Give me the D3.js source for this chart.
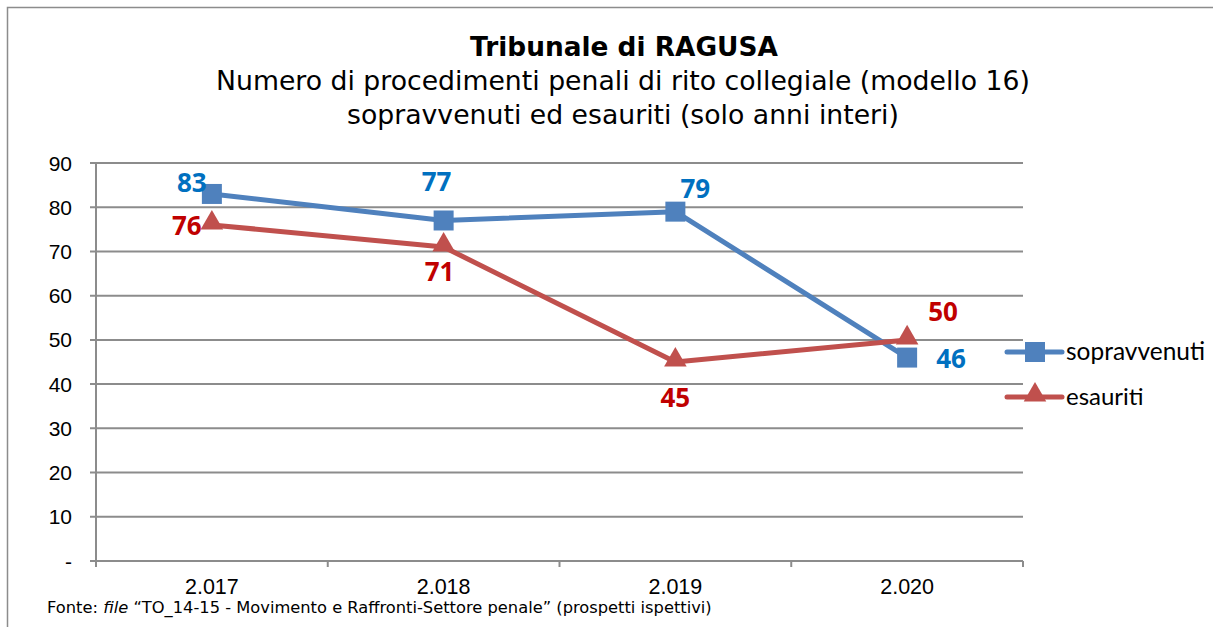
<!DOCTYPE html>
<html><head><meta charset="utf-8">
<script src="https://d3js.org/d3.v7.min.js"></script>
<style>body{margin:0;background:#fff}svg{display:block}</style>
</head><body>
<script>
const categories = ["2.017", "2.018", "2.019", "2.020"];
const sopravvenuti = [83, 77, 79, 46];
const esauriti = [76, 71, 45, 50];
const yTicks = [0, 10, 20, 30, 40, 50, 60, 70, 80, 90];
const titleText = "Tribunale di RAGUSA";
const subtitleLines = ["Numero di procedimenti penali di rito collegiale (modello 16)", "sopravvenuti ed esauriti (solo anni interi)"];
const seriesNames = ["sopravvenuti", "esauriti"];

(function () {
const W = 1213, H = 627;
const svg = d3.select("body").append("svg").attr("width", W).attr("height", H);

function fit(sel, target) {
  const fs = +sel.attr("font-size");
  const w = sel.node().getComputedTextLength();
  if (w > 0) sel.attr("font-size", (fs * target / w).toFixed(2));
  return sel;
}

svg.append("rect").attr("x", 7.5).attr("y", 7.5).attr("width", W + 20).attr("height", H + 20)
  .attr("fill", "none").attr("stroke", "#8c8c8c").attr("stroke-width", 1.5);

const pLeft = 96, pRight = 1023, pTop = 163, pBottom = 561;
const x = d3.scaleBand().domain(categories).range([pLeft, pRight]);
const y = d3.scaleLinear().domain([0, 90]).range([pBottom, pTop]);

svg.append("g").selectAll("line").data(yTicks).join("line")
  .attr("x1", pLeft - 6).attr("x2", pRight)
  .attr("y1", d => y(d)).attr("y2", d => y(d))
  .attr("stroke", "#8c8c8c").attr("stroke-width", 2);
svg.append("line").attr("x1", pLeft).attr("x2", pLeft).attr("y1", pTop).attr("y2", pBottom + 6)
  .attr("stroke", "#8c8c8c").attr("stroke-width", 2);
const bounds = categories.map(c => x(c)).concat([pRight]);
svg.append("g").selectAll("line").data(bounds).join("line")
  .attr("x1", d => d).attr("x2", d => d).attr("y1", pBottom).attr("y2", pBottom + 6)
  .attr("stroke", "#8c8c8c").attr("stroke-width", 2);

svg.append("g").selectAll("text").data(yTicks).join("text")
  .attr("x", 72).attr("y", d => y(d) + 7.5).attr("text-anchor", "end")
  .attr("font-family", "Liberation Sans, Arial, sans-serif").attr("font-size", 21).attr("fill", "#000")
  .text(d => d === 0 ? "-" : d);
svg.append("g").selectAll("text").data(categories).join("text")
  .attr("x", d => x(d) + x.bandwidth() / 2).attr("y", 594).attr("text-anchor", "middle")
  .attr("font-family", "Liberation Sans, Arial, sans-serif").attr("font-size", 21.5).attr("fill", "#000")
  .text(d => d);

fit(svg.append("text").attr("x", 624).attr("y", 56).attr("text-anchor", "middle")
  .attr("font-family", "DejaVu Sans, Verdana, sans-serif").attr("font-weight", "bold").attr("font-size", 22)
  .text(titleText), 308);
const subW = [814, 552];
subtitleLines.forEach((t, i) => {
  fit(svg.append("text").attr("x", 623).attr("y", 90 + i * 34).attr("text-anchor", "middle")
    .attr("font-family", "DejaVu Sans, Verdana, sans-serif").attr("font-size", 22)
    .text(t), subW[i]);
});

const cx = d => x(d) + x.bandwidth() / 2;
const colors = ["#4F81BD", "#C0504D"];
const labelColors = ["#0070C0", "#C00000"];
const line = d3.line().x((d, i) => cx(categories[i])).y(d => y(d));

[sopravvenuti, esauriti].forEach((data, s) => {
  svg.append("path").attr("d", line(data)).attr("fill", "none")
    .attr("stroke", colors[s]).attr("stroke-width", 5).attr("stroke-linejoin", "round");
});

const sq = d3.symbol().type(d3.symbolSquare).size(400);
const tri = d3.symbol().type(d3.symbolTriangle).size(220);
svg.append("g").selectAll("path").data(sopravvenuti).join("path")
  .attr("d", sq).attr("transform", (d, i) => `translate(${cx(categories[i])},${y(d)})`).attr("fill", colors[0]);
svg.append("g").selectAll("path").data(esauriti).join("path")
  .attr("d", tri).attr("transform", (d, i) => `translate(${cx(categories[i])},${y(d) - 2})`).attr("fill", colors[1]);

const offS = [[-20, -2], [-7, -29], [20, -14], [44, 10]];
const offE = [[-25, 10], [-4, 34], [0, 45], [36, -19]];
function labels(data, offs, color) {
  svg.append("g").selectAll("text").data(data).join("text")
    .attr("x", (d, i) => cx(categories[i]) + offs[i][0])
    .attr("y", (d, i) => y(d) + offs[i][1])
    .attr("text-anchor", "middle").attr("font-family", "Open Sans, Lato, sans-serif")
    .attr("font-weight", "bold").attr("font-size", 26).attr("fill", color)
    .text(d => d);
}
labels(sopravvenuti, offS, labelColors[0]);
labels(esauriti, offE, labelColors[1]);

const legY = [352, 397];
seriesNames.forEach((n, s) => {
  const g = svg.append("g");
  g.append("line").attr("x1", 1007).attr("x2", 1062).attr("y1", legY[s]).attr("y2", legY[s])
    .attr("stroke", colors[s]).attr("stroke-width", 5).attr("stroke-linecap", "round");
  g.append("path").attr("d", s === 0 ? sq : tri)
    .attr("transform", `translate(1035,${legY[s] - (s ? 2 : 0)})`).attr("fill", colors[s]);
  const t = g.append("text").attr("x", 1066).attr("y", legY[s] + 8)
    .attr("font-family", "Lato, Carlito, sans-serif").attr("font-size", 24).text(n);
  if (s === 0) fit(t, 139);
});

const f = svg.append("text").attr("x", 47).attr("y", 613)
  .attr("font-family", "DejaVu Sans, Verdana, sans-serif").attr("font-size", 13);
f.append("tspan").text("Fonte: ");
f.append("tspan").attr("font-style", "italic").text("file");
f.append("tspan").text(" “TO_14-15 - Movimento e Raffronti-Settore penale” (prospetti ispettivi)");
fit(f, 665);
})();
</script>
</body></html>
